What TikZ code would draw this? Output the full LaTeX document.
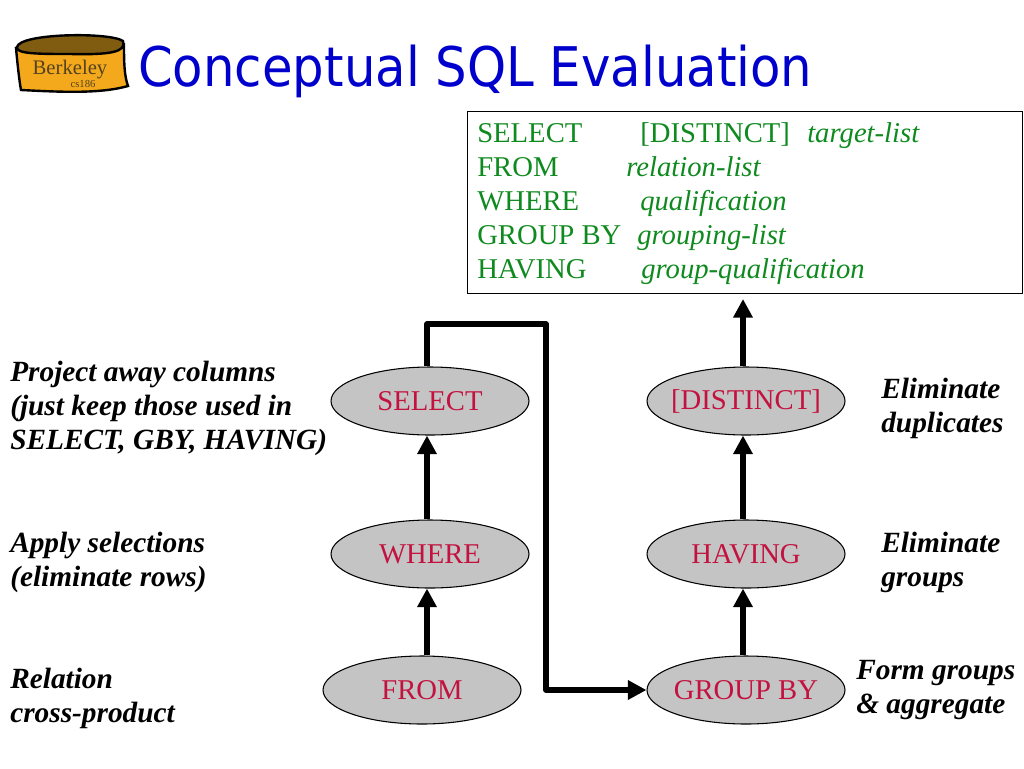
\documentclass[tikz,border=0pt]{standalone}
\usepackage{fontspec}
\setmainfont{Liberation Serif}
\newfontfamily\titlefont[FakeStretch=0.91]{DejaVu Sans}
\usetikzlibrary{arrows.meta,positioning,shapes.geometric}
\definecolor{sqlgreen}{HTML}{0F8A1F}
\definecolor{sqlred}{HTML}{C3123F}
\definecolor{titleblue}{HTML}{0000CC}
\definecolor{logogold}{HTML}{F4A91C}
\definecolor{logotop}{HTML}{7F5C10}
\definecolor{logotext}{HTML}{54421C}

\begin{document}
\begin{tikzpicture}[
  x=0.75pt, y=-0.75pt,
  font=\fontsize{21.5pt}{25pt}\selectfont,
  clause/.style={draw, ellipse, fill=black!23, line width=0.8pt, minimum width=148.5pt, minimum height=51pt, inner ysep=0pt, inner xsep=-14pt, text=sqlred},
  flow/.style={-{Triangle[length=14pt,width=14pt]}, line width=4pt, line join=round},
  note/.style={align=left, anchor=north west, inner sep=0pt, font=\fontsize{22pt}{25.5pt}\selectfont\itshape\bfseries},
  code/.style={anchor=base west, inner sep=0pt, text=sqlgreen},
  codeit/.style={code, font=\fontsize{21.5pt}{25pt}\selectfont\itshape},
  logoline/.style={draw=black, line width=1.8pt}
]
\useasboundingbox (0,0) rectangle (1024,768);

% logo
\path[logoline, fill=logogold] (16,48) .. controls (18,70) and (20,85) .. (21,90) .. controls (60,92) and (100,94) .. (128,86) .. controls (124,75) and (124,60) .. (124,44) -- cycle;
\path[logoline, fill=logotop] (17,47) .. controls (20,33) and (110,32) .. (123,41) .. controls (127,52) and (110,55) .. (70,54) .. controls (40,54) and (15,54) .. (17,47) -- cycle;
\node[inner sep=0pt, text=logotext, font=\fontsize{15.5pt}{15.5pt}\selectfont] (logoname) at (70,70) {Berkeley};
\node[inner sep=0pt, text=logotext, font=\fontsize{8pt}{8pt}\selectfont] (logocourse) at (83,84) {cs186};

\node[anchor=base west, inner sep=0pt, text=titleblue, font=\titlefont\fontsize{41pt}{45pt}\selectfont] (title) at (138,86) {Conceptual SQL Evaluation};

% query box
\node[draw, line width=0.8pt, minimum width=416.5pt, minimum height=136.5pt, inner sep=0pt, anchor=north west] (query) at (467,111) {};
\foreach \kw/\row in {SELECT/142, FROM/176, WHERE/210, GROUP BY/244, HAVING/278}
  \node[code] (kw\row) at (477,\row) {\kw};
\node[code] (distinct) at (640,142) {[DISTINCT]};
\foreach \part/\col/\row in {target-list/807/142, relation-list/626/176, qualification/640/210, grouping-list/637/244, group-qualification/641/278}
  \node[codeit] (arg\row) at (\col,\row) {\part};

% operators
\node[clause] (select) at (430,401) {SELECT};
\node[clause] (where) at (430,554) {WHERE};
\node[clause] (from) at (422,690) {FROM};
\node[clause] (dist) at (746,401) {[DISTINCT]};
\node[clause] (having) at (746,554) {HAVING};
\node[clause] (groupby) at (746,690) {GROUP BY};

\coordinate (topleft) at (427,324);
\coordinate (topright) at (546,324);
\coordinate (lowright) at (546,690);
\coordinate (boxfoot) at (743,299);

\draw[flow] (from.north -| topleft) -- (where.south -| topleft);
\draw[flow] (where.north -| topleft) -- (select.south -| topleft);
\draw[flow] (select.north -| topleft) -- (topleft) -- (topright) -- (lowright) -- (groupby.west);
\draw[flow] (groupby.north -| boxfoot) -- (having.south -| boxfoot);
\draw[flow] (having.north -| boxfoot) -- (dist.south -| boxfoot);
\draw[flow] (dist.north -| boxfoot) -- (boxfoot);

% notes
\node[note] (notea) at (10,361) {Project away columns\\(just keep those used in\\SELECT, GBY, HAVING)};
\node[note] (noteb) at (10,532) {Apply selections\\(eliminate rows)};
\node[note] (notec) at (10,668) {Relation\\cross-product};
\node[note] (noted) at (881,378) {Eliminate\\duplicates};
\node[note] (notee) at (881,532) {Eliminate\\groups};
\node[note] (notef) at (856,660) {Form groups\\\& aggregate};
\end{tikzpicture}
\end{document}
